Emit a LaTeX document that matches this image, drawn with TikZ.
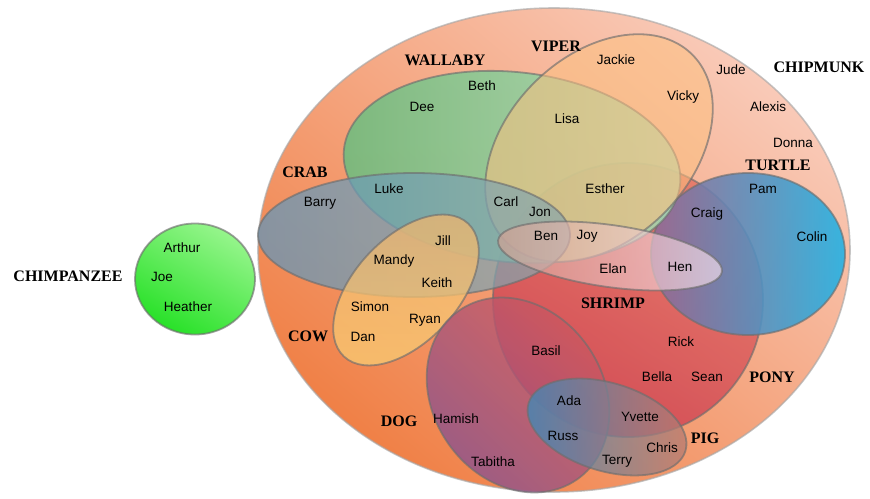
\documentclass[tikz,border=0pt]{standalone}
\usepackage{fontspec}
\setmainfont{Liberation Serif}
\setsansfont{Liberation Sans}
\definecolor{chipdark}{RGB}{240,128,70}
\definecolor{chiplight}{RGB}{249,202,184}
\definecolor{chimplight}{RGB}{150,245,140}
\definecolor{chimpdark}{RGB}{40,225,40}
\definecolor{wallabydark}{RGB}{104,189,126}
\definecolor{wallabylight}{RGB}{170,222,182}
\definecolor{viperfill}{RGB}{252,192,128}
\definecolor{crabdark}{RGB}{95,150,188}
\definecolor{crablight}{RGB}{140,168,170}
\definecolor{cowlight}{RGB}{250,206,116}
\definecolor{cowdark}{RGB}{240,180,110}
\definecolor{ponytop}{RGB}{228,115,100}
\definecolor{ponybottom}{RGB}{205,62,82}
\definecolor{turtleblue}{RGB}{30,178,230}
\definecolor{turtlegray}{RGB}{145,105,150}
\definecolor{shrimpleft}{RGB}{215,160,145}
\definecolor{shrimpmid}{RGB}{232,212,218}
\definecolor{shrimpright}{RGB}{250,228,242}
\definecolor{dogpurple}{RGB}{134,82,146}
\definecolor{dogred}{RGB}{208,88,92}
\definecolor{pigblue}{RGB}{52,139,190}
\definecolor{pigbrown}{RGB}{190,122,108}
\definecolor{rimgray}{RGB}{110,110,110}
\tikzset{
    setrim/.style={
        draw=rimgray, draw opacity=0.65, line width=1.8pt
    },
    member/.style={
        font=\sffamily\fontsize{13.5}{15}\selectfont, inner sep=0pt,
        text height=9.7pt, text depth=0pt
    },
    setname/.style={
        font=\bfseries\fontsize{16}{18}\selectfont, inner sep=0pt,
        text height=10.6pt, text depth=0pt
    }
}
\begin{document}
\begin{tikzpicture}[x=1pt, y=-1pt]
    \useasboundingbox (0,0) rectangle (870,498);

    % --- 1. SETS ---
    % CHIPMUNK (outer) and CHIMPANZEE
    \draw[setrim, draw=rimgray!60, line width=1.6pt, top color=chiplight, bottom color=chipdark, shading angle=-40]
        (554,250) ellipse (296 and 242);
    \draw[setrim, top color=chimplight, bottom color=chimpdark, shading angle=-30]
        (195,279) ellipse (60 and 55.5);

    % PONY, TURTLE
    \draw[setrim, fill opacity=0.85, top color=ponytop, bottom color=ponybottom, shading angle=-30]
        (628,300) ellipse (135 and 137);
    \draw[setrim, fill opacity=0.88, left color=turtlegray, right color=turtleblue]
        (748,254) ellipse (97 and 81);

    % WALLABY, VIPER
    \draw[setrim, fill opacity=0.85, left color=wallabydark, right color=wallabylight, rotate around={-6:(512,167)}]
        (512,167) ellipse (169 and 95);
    \draw[setrim, fill=viperfill, fill opacity=0.55, rotate around={45:(599,148)}]
        (599,148) ellipse (132 and 92);

    % CRAB, COW
    \draw[setrim, fill opacity=0.72, left color=crabdark, right color=crablight]
        (414,235) ellipse (156 and 62);
    \draw[setrim, fill opacity=0.75, top color=cowdark, bottom color=cowlight, rotate around={47:(406,290)}]
        (406,290) ellipse (91 and 52);

    % SHRIMP
    \draw[setrim, fill opacity=0.65, left color=shrimpleft, middle color=shrimpmid, right color=shrimpright, rotate around={-8:(610,256)}]
        (610,256) ellipse (113 and 31);

    % DOG, PIG
    \draw[setrim, fill opacity=0.8, top color=dogred, bottom color=dogpurple, shading angle=-45, rotate around={-55:(518,395)}]
        (518,395) ellipse (103 and 85);
    \draw[setrim, fill opacity=0.75, left color=pigblue, right color=pigbrown, rotate around={-17:(607,427)}]
        (607,427) ellipse (82 and 44);

    % --- 2. SET NAMES ---
    \node[setname] (chimpanzee) at (68,276) {CHIMPANZEE};
    \node[setname] (chipmunk) at (819,67) {CHIPMUNK};
    \node[setname] (wallaby) at (445,60) {WALLABY};
    \node[setname] (viper) at (556,46) {VIPER};
    \node[setname] (turtle) at (778,165) {TURTLE};
    \node[setname] (crab) at (305,172) {CRAB};
    \node[setname] (shrimp) at (613,303) {SHRIMP};
    \node[setname] (cow) at (308,336) {COW};
    \node[setname] (pony) at (772,377) {PONY};
    \node[setname] (dog) at (399,421) {DOG};
    \node[setname] (pig) at (705,438) {PIG};

    % --- 3. MEMBERS ---
    \node[member] (arthur) at (182,248) {Arthur};
    \node[member] (joe) at (162,277) {Joe};
    \node[member] (heather) at (188,307) {Heather};
    \node[member] (jackie) at (616,60) {Jackie};
    \node[member] (jude) at (731,70) {Jude};
    \node[member] (beth) at (482,86) {Beth};
    \node[member] (vicky) at (683,96) {Vicky};
    \node[member] (dee) at (422,107) {Dee};
    \node[member] (alexis) at (768,107) {Alexis};
    \node[member] (lisa) at (567,119) {Lisa};
    \node[member] (donna) at (793,143) {Donna};
    \node[member] (pam) at (763,189) {Pam};
    \node[member] (esther) at (605,189) {Esther};
    \node[member] (luke) at (389,189) {Luke};
    \node[member] (barry) at (320,202) {Barry};
    \node[member] (carl) at (506,202) {Carl};
    \node[member] (jon) at (540,212) {Jon};
    \node[member] (craig) at (707,213) {Craig};
    \node[member] (jill) at (443,241) {Jill};
    \node[member] (ben) at (546,236) {Ben};
    \node[member] (joy) at (587,235) {Joy};
    \node[member] (colin) at (812,237) {Colin};
    \node[member] (mandy) at (394,260) {Mandy};
    \node[member] (elan) at (613,269) {Elan};
    \node[member] (hen) at (680,267) {Hen};
    \node[member] (keith) at (437,283) {Keith};
    \node[member] (simon) at (370,307) {Simon};
    \node[member] (ryan) at (425,319) {Ryan};
    \node[member] (dan) at (363,337) {Dan};
    \node[member] (rick) at (681,342) {Rick};
    \node[member] (basil) at (546,351) {Basil};
    \node[member] (bella) at (657,377) {Bella};
    \node[member] (sean) at (707,377) {Sean};
    \node[member] (ada) at (569,401) {Ada};
    \node[member] (hamish) at (456,419) {Hamish};
    \node[member] (yvette) at (640,417) {Yvette};
    \node[member] (russ) at (563,436) {Russ};
    \node[member] (chris) at (662,448) {Chris};
    \node[member] (terry) at (617,460) {Terry};
    \node[member] (tabitha) at (493,462) {Tabitha};
\end{tikzpicture}
\end{document}
